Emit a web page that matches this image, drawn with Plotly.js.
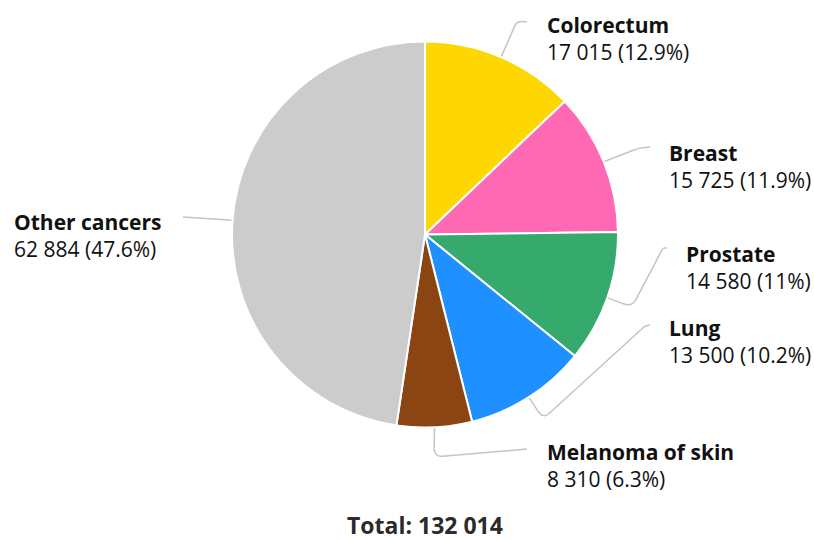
<!DOCTYPE html>
<html>
<head>
<meta charset="utf-8">
<script src="https://cdn.plot.ly/plotly-3.0.1.min.js"></script>
<style>html,body{margin:0;padding:0;background:#fff;}#chart{width:814px;height:540px;}</style>
</head>
<body>
<div id="chart"></div>
<script>
// ---- data ----
const categories = ["Colorectum", "Breast", "Prostate", "Lung", "Melanoma of skin", "Other cancers"];
const cases = [17015, 15725, 14580, 13500, 8310, 62884];
const sliceColors = ["#FFD700", "#FF69B4", "#36A96C", "#1E90FF", "#8B4513", "#CCCCCC"];

// ---- layout constants (pixels) ----
const W = 814, H = 540;
const CX = 425, CY = 234.5, R = 193;
// label text anchor (left x, middle y of the two-line block)
const labelX = [545, 667, 684, 667, 545, 12];
const labelY = [39, 166.5, 267, 341.5, 465.5, 235.5];
// connector via points after the slice edge point
const connectorVia = [
  [[517, 21], [527, 22]],
  [[639, 148], [650, 147]],
  [[632, 307], [663, 248], [667, 248]],
  [[543, 419], [645, 326], [650, 325]],
  [[434, 457], [527, 449]],
  [[183, 217]]
];

const total = cases.reduce((a, b) => a + b, 0);
const fmt = n => String(n).replace(/\B(?=(\d{3})+(?!\d))/g, " ");
const pct = v => { const p = Math.round(v / total * 1000) / 10; return String(p); };

const px = x => x / W;
const py = y => 1 - y / H;

function roundedPath(pts, r) {
  let d = "M" + px(pts[0][0]) + "," + py(pts[0][1]);
  for (let i = 1; i < pts.length; i++) {
    const p = pts[i];
    if (i < pts.length - 1) {
      const a = pts[i - 1], b = pts[i + 1];
      const l1 = Math.hypot(p[0] - a[0], p[1] - a[1]);
      const l2 = Math.hypot(b[0] - p[0], b[1] - p[1]);
      const rr = Math.min(r, l1 / 2, l2 / 2);
      const A = [p[0] - rr * (p[0] - a[0]) / l1, p[1] - rr * (p[1] - a[1]) / l1];
      const B = [p[0] + rr * (b[0] - p[0]) / l2, p[1] + rr * (b[1] - p[1]) / l2];
      d += " L" + px(A[0]) + "," + py(A[1]) + " Q" + px(p[0]) + "," + py(p[1]) + " " + px(B[0]) + "," + py(B[1]);
    } else {
      d += " L" + px(p[0]) + "," + py(p[1]);
    }
  }
  return d;
}

const shapes = [];
const annotations = [];
let cum = 0;
cases.forEach((v, i) => {
  const mid = (cum + v / 2) / total;
  cum += v;
  const ang = mid * 2 * Math.PI;
  const start = [CX + R * Math.sin(ang), CY - R * Math.cos(ang)];
  shapes.push({
    type: "path", xref: "paper", yref: "paper",
    path: roundedPath([start].concat(connectorVia[i]), 9),
    line: {color: "#C4C4C4", width: 1.5}, layer: "below"
  });
  annotations.push({
    xref: "paper", yref: "paper", x: px(labelX[i]), y: py(labelY[i]),
    xanchor: "left", yanchor: "middle", align: "left", showarrow: false,
    text: "<b>" + categories[i] + "</b><br>" + fmt(v) + " (" + pct(v) + "%)",
    font: {family: "Open Sans, Noto Sans, sans-serif", size: 21, color: "#111111"}
  });
});

annotations.push({
  xref: "paper", yref: "paper", x: px(CX), y: py(525),
  xanchor: "center", yanchor: "middle", showarrow: false,
  text: "<b>Total: " + fmt(total) + "</b>",
  font: {family: "Open Sans, Noto Sans, sans-serif", size: 23, color: "#2B2B2B"}
});

const trace = {
  type: "pie",
  labels: categories,
  values: cases,
  sort: false,
  direction: "clockwise",
  rotation: 0,
  textinfo: "none",
  hoverinfo: "label+value+percent",
  marker: {colors: sliceColors, line: {color: "#FFFFFF", width: 2}},
  domain: {x: [px(CX - R), px(CX + R)], y: [py(CY + R), py(CY - R)]},
  showlegend: false
};

Plotly.newPlot("chart", [trace], {
  width: W, height: H,
  margin: {l: 0, r: 0, t: 0, b: 0},
  paper_bgcolor: "#FFFFFF",
  showlegend: false,
  shapes: shapes,
  annotations: annotations
}, {displayModeBar: false, staticPlot: true});
</script>
</body>
</html>
